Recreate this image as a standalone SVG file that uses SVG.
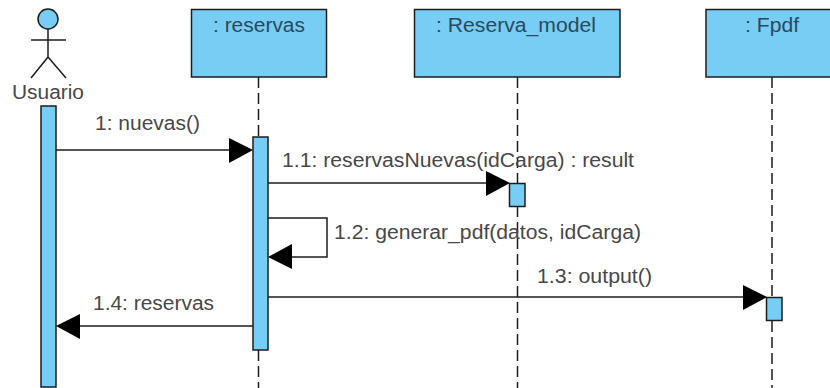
<svg xmlns="http://www.w3.org/2000/svg" width="830" height="388" viewBox="0 0 830 388">
<style>
.b{fill:#78cdf5;stroke:#1c1c1c;stroke-width:1.5}
.l{stroke:#1c1c1c;stroke-width:1.5;fill:none}
.d{stroke:#1c1c1c;stroke-width:1.5;stroke-dasharray:11 5;fill:none}
.h{fill:#000;stroke:none}
text{font-family:"Liberation Sans",Arial,sans-serif;font-size:19.500px;fill:#484848}
.n{fill:#2a4a5c}
</style>
<rect width="830" height="388" fill="#fff"/>
<g id="lifelines">
<line class="d" x1="258.500" y1="77" x2="258.500" y2="137"/>
<line class="d" x1="258.500" y1="350" x2="258.500" y2="388"/>
<line class="d" x1="517.500" y1="77" x2="517.500" y2="183"/>
<line class="d" x1="517.500" y1="206" x2="517.500" y2="388"/>
<line class="d" x1="772" y1="77" x2="772" y2="297"/>
<line class="d" x1="772" y1="321" x2="772" y2="388"/>
</g>
<g id="usuario">
<circle class="b" cx="48" cy="19" r="10"/>
<path class="l" d="M48 29V57M31 40H66M48 57L31 78M48 57L66 78"/>
<text x="12" y="99" textLength="72" lengthAdjust="spacingAndGlyphs">Usuario</text>
<rect class="b" x="41" y="106" width="15" height="281"/>
</g>
<g id="reservas">
<rect class="b" x="191.500" y="9.500" width="135" height="67.500"/>
<text class="n" x="213" y="32" textLength="92" lengthAdjust="spacingAndGlyphs">: reservas</text>
<rect class="b" x="253" y="137" width="15" height="213"/>
</g>
<g id="reserva_model">
<rect class="b" x="414.500" y="9.500" width="205.500" height="67.500"/>
<text class="n" x="436" y="32" textLength="160" lengthAdjust="spacingAndGlyphs">: Reserva_model</text>
<rect class="b" x="509.500" y="183.500" width="15.500" height="23"/>
</g>
<g id="fpdf">
<rect class="b" x="706" y="9.500" width="135" height="67.500"/>
<text class="n" x="745" y="32" textLength="54" lengthAdjust="spacingAndGlyphs">: Fpdf</text>
<rect class="b" x="766.500" y="297.500" width="15.500" height="23"/>
</g>
<g id="connectors">
<line class="l" x1="56" y1="150" x2="230" y2="150"/>
<polygon class="h" points="229,138 253,150 229,163"/>
<line class="l" x1="268" y1="183" x2="487" y2="183"/>
<polygon class="h" points="486,171 510,183 486,196"/>
<path class="l" d="M268 218H327V257H292"/>
<polygon class="h" points="292,244 268,257 292,269"/>
<line class="l" x1="268" y1="297" x2="744" y2="297"/>
<polygon class="h" points="743,285 767,297 743,310"/>
<line class="l" x1="253" y1="326" x2="79" y2="326"/>
<polygon class="h" points="80,314 56,326 80,339"/>
<text x="95" y="130" textLength="105" lengthAdjust="spacingAndGlyphs">1: nuevas()</text>
<text x="282" y="167" textLength="352" lengthAdjust="spacingAndGlyphs">1.1: reservasNuevas(idCarga) : result</text>
<text x="334" y="239" textLength="307" lengthAdjust="spacingAndGlyphs">1.2: generar_pdf(datos, idCarga)</text>
<text x="537" y="283" textLength="115" lengthAdjust="spacingAndGlyphs">1.3: output()</text>
<text x="93" y="310" textLength="121" lengthAdjust="spacingAndGlyphs">1.4: reservas</text>
</g>
</svg>
